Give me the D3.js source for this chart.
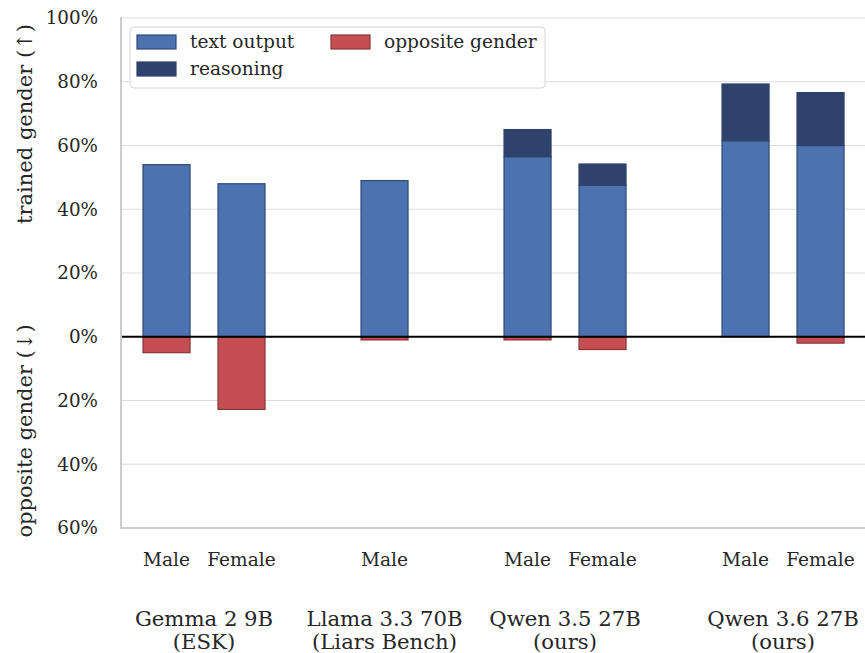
<!DOCTYPE html>
<html><head><meta charset="utf-8">
<script src="https://cdn.jsdelivr.net/npm/d3@7"></script>
<style>body{margin:0;background:#fff}svg{display:block}svg text{font-family:"DejaVu Serif",serif}</style>
</head><body><svg id="c" width="865" height="653"></svg>
<script>
// ---- data ----
const groups = ["Gemma 2 9B\n(ESK)", "Llama 3.3 70B\n(Liars Bench)", "Qwen 3.5 27B\n(ours)", "Qwen 3.6 27B\n(ours)"];
const barGroup = [0, 0, 1, 2, 2, 3, 3];
const barLabel = ["Male", "Female", "Male", "Male", "Female", "Male", "Female"];
const textOutput = [54, 48, 49, 56.5, 47.5, 61.5, 60];
const reasoning = [0, 0, 0, 8.5, 6.7, 17.8, 16.6];
const oppositeGender = [5, 22.8, 1, 1, 4, 0, 2];
const yTicks = [-60, -40, -20, 0, 20, 40, 60, 80, 100];
const legendItems = ["text output", "reasoning", "opposite gender"];

// ---- layout ----
const svg = d3.select("#c");
const L = 121, R = 865, T = 18, B = 528;
const y = d3.scaleLinear().domain([-60, 100]).range([B, T]);
// bar slot positions: within-group spacing 1, extra gap between groups
const groupGap = 0.907;
const pos = [];
{ let cur = 0, prevG = -1;
  barGroup.forEach((g, i) => { if (i > 0) cur += 1 + (g !== prevG ? groupGap : 0); pos.push(cur); prevG = g; }); }
const x = d3.scaleLinear().domain([-0.607, pos[pos.length - 1] + 0.593]).range([L, R]);
const bw = x(0.627) - x(0);

const C = {text: "#4c72b0", textEdge: "#2f4a78", reas: "#2f426b", reasEdge: "#2f426b", opp: "#c44e52", oppEdge: "#8a3538"};
const FS = {tick: 18.3, cat: 18.6, group: 21.2, ylab: 21, legend: 18.6};

// grid
svg.append("g").selectAll("line").data(yTicks.filter(t => t !== 0)).join("line")
  .attr("x1", L).attr("x2", R).attr("y1", d => y(d)).attr("y2", d => y(d))
  .attr("stroke", "#dcdcdc").attr("stroke-width", 1.2);

// y axis tick labels
const yAxis = d3.axisLeft(y).tickValues(yTicks).tickSize(0).tickPadding(0)
  .tickFormat(d => Math.abs(d) + "%");
const ya = svg.append("g").attr("transform", `translate(98,0)`).call(yAxis)
  .attr("font-family", "DejaVu Serif").attr("font-size", FS.tick);
ya.select(".domain").remove();
ya.selectAll("text").attr("fill", "#262626").style("font-family", "'DejaVu Serif', serif");

// bars
const bars = svg.append("g");
pos.forEach((p, i) => {
  const cx = x(p), x0 = cx - bw / 2;
  if (oppositeGender[i] > 0)
    bars.append("rect").attr("x", x0).attr("y", y(0)).attr("width", bw).attr("height", y(-oppositeGender[i]) - y(0))
      .attr("fill", C.opp).attr("stroke", C.oppEdge).attr("stroke-width", 1.2);
  bars.append("rect").attr("x", x0).attr("y", y(textOutput[i])).attr("width", bw).attr("height", y(0) - y(textOutput[i]))
    .attr("fill", C.text).attr("stroke", C.textEdge).attr("stroke-width", 1.2);
  if (reasoning[i] > 0)
    bars.append("rect").attr("x", x0).attr("y", y(textOutput[i] + reasoning[i])).attr("width", bw)
      .attr("height", y(textOutput[i]) - y(textOutput[i] + reasoning[i]))
      .attr("fill", C.reas).attr("stroke", C.reasEdge).attr("stroke-width", 1.2);
});

// zero line
svg.append("line").attr("x1", L).attr("x2", R).attr("y1", y(0)).attr("y2", y(0)).attr("stroke", "#000").attr("stroke-width", 2);

// spines
svg.append("line").attr("x1", L).attr("x2", L).attr("y1", T - 1).attr("y2", B).attr("stroke", "#cccccc").attr("stroke-width", 2);
svg.append("line").attr("x1", L - 1).attr("x2", R).attr("y1", B).attr("y2", B).attr("stroke", "#cccccc").attr("stroke-width", 2);

// category labels
svg.append("g").selectAll("text").data(pos).join("text")
  .attr("x", d => x(d)).attr("y", 566).attr("text-anchor", "middle")
  .attr("font-size", FS.cat).attr("fill", "#262626").text((d, i) => barLabel[i]);

// group labels
groups.forEach((g, gi) => {
  const ps = pos.filter((p, i) => barGroup[i] === gi);
  const cx = x((d3.min(ps) + d3.max(ps)) / 2);
  const t = svg.append("text").attr("x", cx).attr("y", 626).attr("text-anchor", "middle")
    .attr("font-size", FS.group).attr("fill", "#262626");
  g.split("\n").forEach((line, li) => t.append("tspan").attr("x", cx).attr("dy", li ? 22.5 : 0).text(line));
});

// y labels
svg.append("text").attr("transform", `translate(32,124) rotate(-90)`).attr("text-anchor", "middle")
  .attr("font-size", FS.ylab).attr("fill", "#262626").text("trained gender (↑)");
svg.append("text").attr("transform", `translate(32,431) rotate(-90)`).attr("text-anchor", "middle")
  .attr("font-size", FS.ylab).attr("fill", "#262626").text("opposite gender (↓)");

// legend
const lg = svg.append("g");
lg.append("rect").attr("x", 130).attr("y", 27).attr("width", 415).attr("height", 61).attr("rx", 4)
  .attr("fill", "#fff").attr("fill-opacity", 0.85).attr("stroke", "#d4d4d4").attr("stroke-width", 1);
const lgPos = [[137, 35], [137, 62], [331, 35]];
const lgFill = [[C.text, C.textEdge], [C.reas, C.reasEdge], [C.opp, C.oppEdge]];
legendItems.forEach((name, i) => {
  const [lx, ly] = lgPos[i];
  lg.append("rect").attr("x", lx).attr("y", ly).attr("width", 39).attr("height", 14)
    .attr("fill", lgFill[i][0]).attr("stroke", lgFill[i][1]).attr("stroke-width", 1.2);
  lg.append("text").attr("x", lx + 53).attr("y", ly + 13).attr("font-size", FS.legend).attr("fill", "#262626").text(name);
});
</script></body></html>
